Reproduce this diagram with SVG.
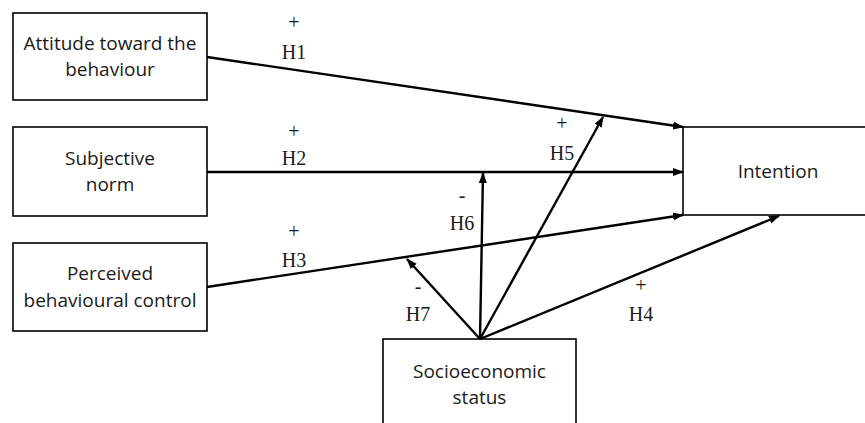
<svg xmlns="http://www.w3.org/2000/svg" width="865" height="423" viewBox="0 0 865 423">
<style>
.box{fill:#fff;stroke:#000;stroke-width:1.6}
.nt{font-family:"Open Sans","Liberation Sans",sans-serif;font-size:19px;fill:#1a1a1a;text-anchor:middle}
.lb{font-family:"Liberation Serif","Times New Roman",serif;font-size:20px;fill:#1a1a1a;text-anchor:middle}
.ed{fill:none;stroke:#000;stroke-width:2.4;marker-end:url(#ah)}
</style>
<defs>
<marker id="ah" markerUnits="userSpaceOnUse" markerWidth="12" markerHeight="10" viewBox="0 0 12 10" refX="10" refY="5" orient="auto">
<path d="M0,1 L11,5 L0,9 Z" fill="#000"/>
</marker>
</defs>
<rect width="865" height="423" fill="#fff"/>
<g id="node-attitude">
<rect class="box" x="13" y="13" width="194" height="87"/>
<text class="nt" x="110" y="50">Attitude toward the</text>
<text class="nt" x="110" y="76">behaviour</text>
</g>
<g id="node-subjective">
<rect class="box" x="13" y="127" width="194" height="89"/>
<text class="nt" x="110" y="165">Subjective</text>
<text class="nt" x="110" y="191">norm</text>
</g>
<g id="node-pbc">
<rect class="box" x="13" y="243" width="194" height="88"/>
<text class="nt" x="110" y="280">Perceived</text>
<text class="nt" x="110" y="307">behavioural control</text>
</g>
<g id="node-intention">
<rect class="box" x="683" y="127" width="200" height="88"/>
<text class="nt" x="778" y="178">Intention</text>
</g>
<g id="node-ses">
<rect class="box" x="383" y="339" width="193" height="100"/>
<text class="nt" x="479.5" y="378">Socioeconomic</text>
<text class="nt" x="479.5" y="404">status</text>
</g>
<g id="connectors">
<path class="ed" d="M207,57 L683,127"/>
<path class="ed" d="M207,172 L683,172"/>
<path class="ed" d="M207,287 L683,215"/>
<path class="ed" d="M480,339 L483,173"/>
<path class="ed" d="M480,339 L603,117"/>
<path class="ed" d="M480,339 L407,259"/>
<path class="ed" d="M480,339 L779,216"/>
</g>
<g id="labels">
<text class="lb" x="294" y="29">+</text>
<text class="lb" x="294" y="59">H1</text>
<text class="lb" x="294" y="138">+</text>
<text class="lb" x="294" y="165">H2</text>
<text class="lb" x="294" y="238">+</text>
<text class="lb" x="294" y="267">H3</text>
<text class="lb" x="562" y="130">+</text>
<text class="lb" x="562" y="160">H5</text>
<text class="lb" x="462" y="202">-</text>
<text class="lb" x="462" y="230">H6</text>
<text class="lb" x="418" y="293">-</text>
<text class="lb" x="418" y="321">H7</text>
<text class="lb" x="641" y="292">+</text>
<text class="lb" x="641" y="321">H4</text>
</g>
</svg>
